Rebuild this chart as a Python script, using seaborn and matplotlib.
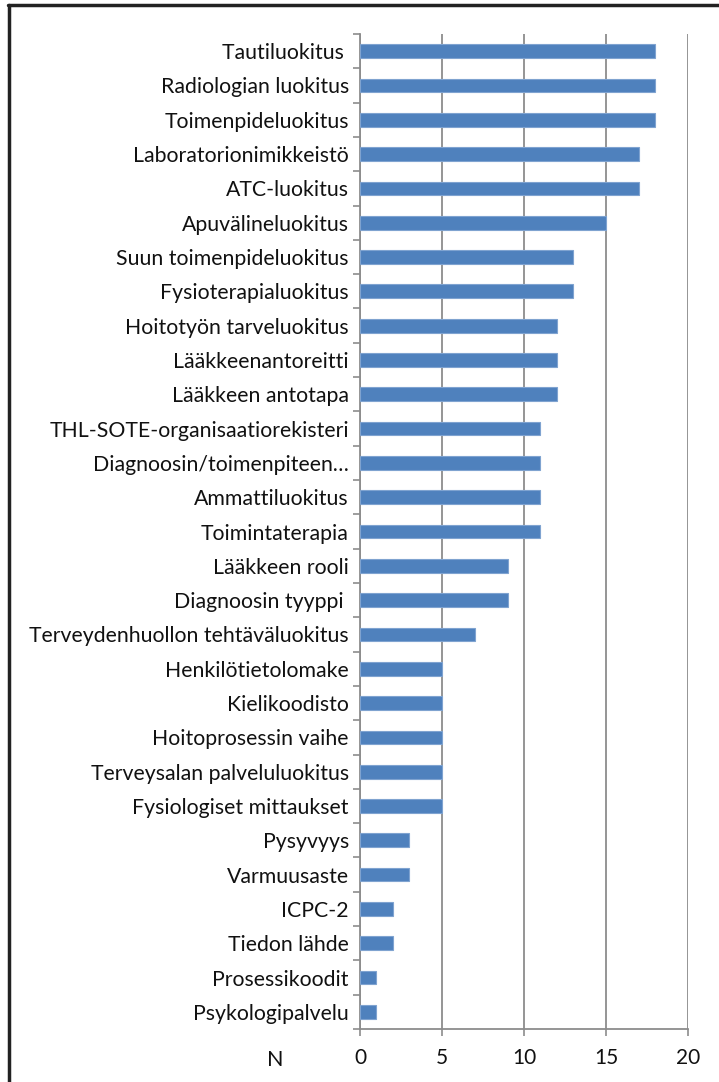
import matplotlib
matplotlib.use("Agg")
import matplotlib.pyplot as plt
import seaborn as sns
import pandas as pd
from matplotlib.lines import Line2D

categories = [
    "Tautiluokitus ", "Radiologian luokitus", "Toimenpideluokitus", "Laboratorionimikkeistö",
    "ATC-luokitus", "Apuvälineluokitus", "Suun toimenpideluokitus", "Fysioterapialuokitus",
    "Hoitotyön tarveluokitus", "Lääkkeenantoreitti", "Lääkkeen antotapa",
    "THL-SOTE-organisaatiorekisteri", "Diagnoosin/toimenpiteen…", "Ammattiluokitus",
    "Toimintaterapia", "Lääkkeen rooli", "Diagnoosin tyyppi ", "Terveydenhuollon tehtäväluokitus",
    "Henkilötietolomake", "Kielikoodisto", "Hoitoprosessin vaihe", "Terveysalan palveluluokitus",
    "Fysiologiset mittaukset", "Pysyvyys", "Varmuusaste", "ICPC-2", "Tiedon lähde",
    "Prosessikoodit", "Psykologipalvelu",
]
values = [18, 18, 18, 17, 17, 15, 13, 13, 12, 12, 12, 11, 11, 11, 11, 9, 9, 7,
          5, 5, 5, 5, 5, 3, 3, 2, 2, 1, 1]
x_ticks = [0, 5, 10, 15, 20]
x_label = "N"

df = pd.DataFrame({"cat": categories, "val": values})

sns.set_theme(style="white")
plt.rcParams["font.family"] = ["Lato", "DejaVu Sans"]

W, H = 719, 1082
fig = plt.figure(figsize=(W / 100, H / 100), dpi=100)
ax = fig.add_axes([360 / W, 1 - 1029 / H, (688 - 360) / W, (1029 - 34) / H])

sns.barplot(data=df, y="cat", x="val", orient="h", color="#4F81BD", width=0.4,
            saturation=1, ax=ax, zorder=3, edgecolor="#7FA3D0", linewidth=0.8)

ax.set_xlim(0, 20)
ax.set_ylim(len(categories) - 0.5, -0.5)
ax.set_xticks(x_ticks)
ax.xaxis.grid(True, color="#8C8C8C", linewidth=1.3, zorder=0)
ax.set_axisbelow(True)
for s in ["top", "right"]:
    ax.spines[s].set_visible(False)
for s in ["left", "bottom"]:
    ax.spines[s].set_color("#8C8C8C")
    ax.spines[s].set_linewidth(1.3)

ax.set_yticks([i - 0.5 for i in range(len(categories) + 1)], minor=True)
ax.tick_params(axis="y", which="major", length=0, pad=8, labelsize=15.3, labelcolor="#111111")
ax.tick_params(axis="y", which="minor", length=5, width=1.2, color="#8C8C8C", left=True)
ax.tick_params(axis="x", which="major", length=5, width=1.2, color="#8C8C8C",
               bottom=True, pad=9, labelsize=15, labelcolor="#111111")
ax.set_ylabel("")
ax.set_xlabel("")

fig.text(275 / W, 1 - 1060 / H, x_label, ha="center", va="center", fontsize=15.5, color="#111111")

fig.add_artist(Line2D([8 / W, 1], [1 - 5 / H, 1 - 5 / H], transform=fig.transFigure,
                      color="#222222", linewidth=2.5))
fig.add_artist(Line2D([9 / W, 9 / W], [1 - 5 / H, 0], transform=fig.transFigure,
                      color="#222222", linewidth=2.5))

fig.savefig("out.png", dpi=100)
